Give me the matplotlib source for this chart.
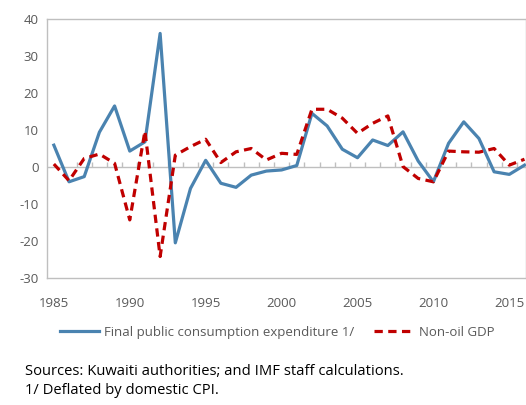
import numpy as np
import matplotlib.pyplot as plt

plt.rcParams['font.family'] = ['Open Sans', 'DejaVu Sans']
plt.rcParams['axes.unicode_minus'] = False

years = np.arange(1985, 2017)
public_cons = [5.9, -4.0, -2.6, 9.4, 16.5, 4.3, 6.8, 36.1, -20.5, -5.8,
               1.8, -4.4, -5.5, -2.2, -1.1, -0.8, 0.4, 14.5, 11.1, 4.8,
               2.5, 7.3, 5.8, 9.5, 1.6, -4.0, 6.4, 12.2, 7.7, -1.3,
               -2.0, 0.5]
non_oil_gdp = [0.8, -3.7, 2.3, 3.5, 1.0, -14.3, 9.7, -24.2, 3.2, 5.5,
               7.5, 1.2, 4.1, 5.0, 1.9, 3.7, 3.4, 15.6, 15.6, 13.2,
               9.1, 11.8, 13.8, 0.1, -3.1, -4.0, 4.3, 4.1, 4.0, 5.0,
               0.5, 2.1]
yticks = [-30, -20, -10, 0, 10, 20, 30, 40]
xticks = [1985, 1990, 1995, 2000, 2005, 2010, 2015]

grey = '#bfbfbf'
txt = '#595959'

fig = plt.figure(figsize=(5.26, 4.05), dpi=100)
ax = fig.add_axes([0.0894, 0.3136, 0.9106, 0.6395])

ax.axhline(0, color=grey, lw=1, zorder=1)
# small tick marks on the zero line between years
ax.vlines(years[1:] + 0.5, 0, 1.3, color=grey, lw=1, zorder=1)

ax.plot(years, public_cons, color='#4a83b0', lw=2.3, zorder=3,
        label='Final public consumption expenditure 1/')
ax.plot(years, non_oil_gdp, color='#c00000', lw=2.3, ls=(0, (2.6, 1.7)),
        zorder=4, label='Non-oil GDP')

ax.set_xlim(1984.55, 2016.1)
ax.set_ylim(-30, 40)
ax.set_yticks(yticks)
ax.set_xticks(xticks)
ax.tick_params(axis='both', length=0, labelsize=9.5, colors=txt)
ax.tick_params(axis='x', pad=14)
ax.tick_params(axis='y', pad=6)
for s in ax.spines.values():
    s.set_color(grey)
    s.set_linewidth(1)

fig.legend(loc='center', bbox_to_anchor=(0.527, 0.18), ncol=2, frameon=False,
           fontsize=9.5, labelcolor=txt, handlelength=3.0, columnspacing=1.5,
           handletextpad=0.4)

fig.text(0.048, 0.082, 'Sources: Kuwaiti authorities; and IMF staff calculations.',
         fontsize=10.6, color='black', va='center')
fig.text(0.048, 0.035, '1/ Deflated by domestic CPI.',
         fontsize=10.6, color='black', va='center')

fig.savefig('out.png', dpi=100)
